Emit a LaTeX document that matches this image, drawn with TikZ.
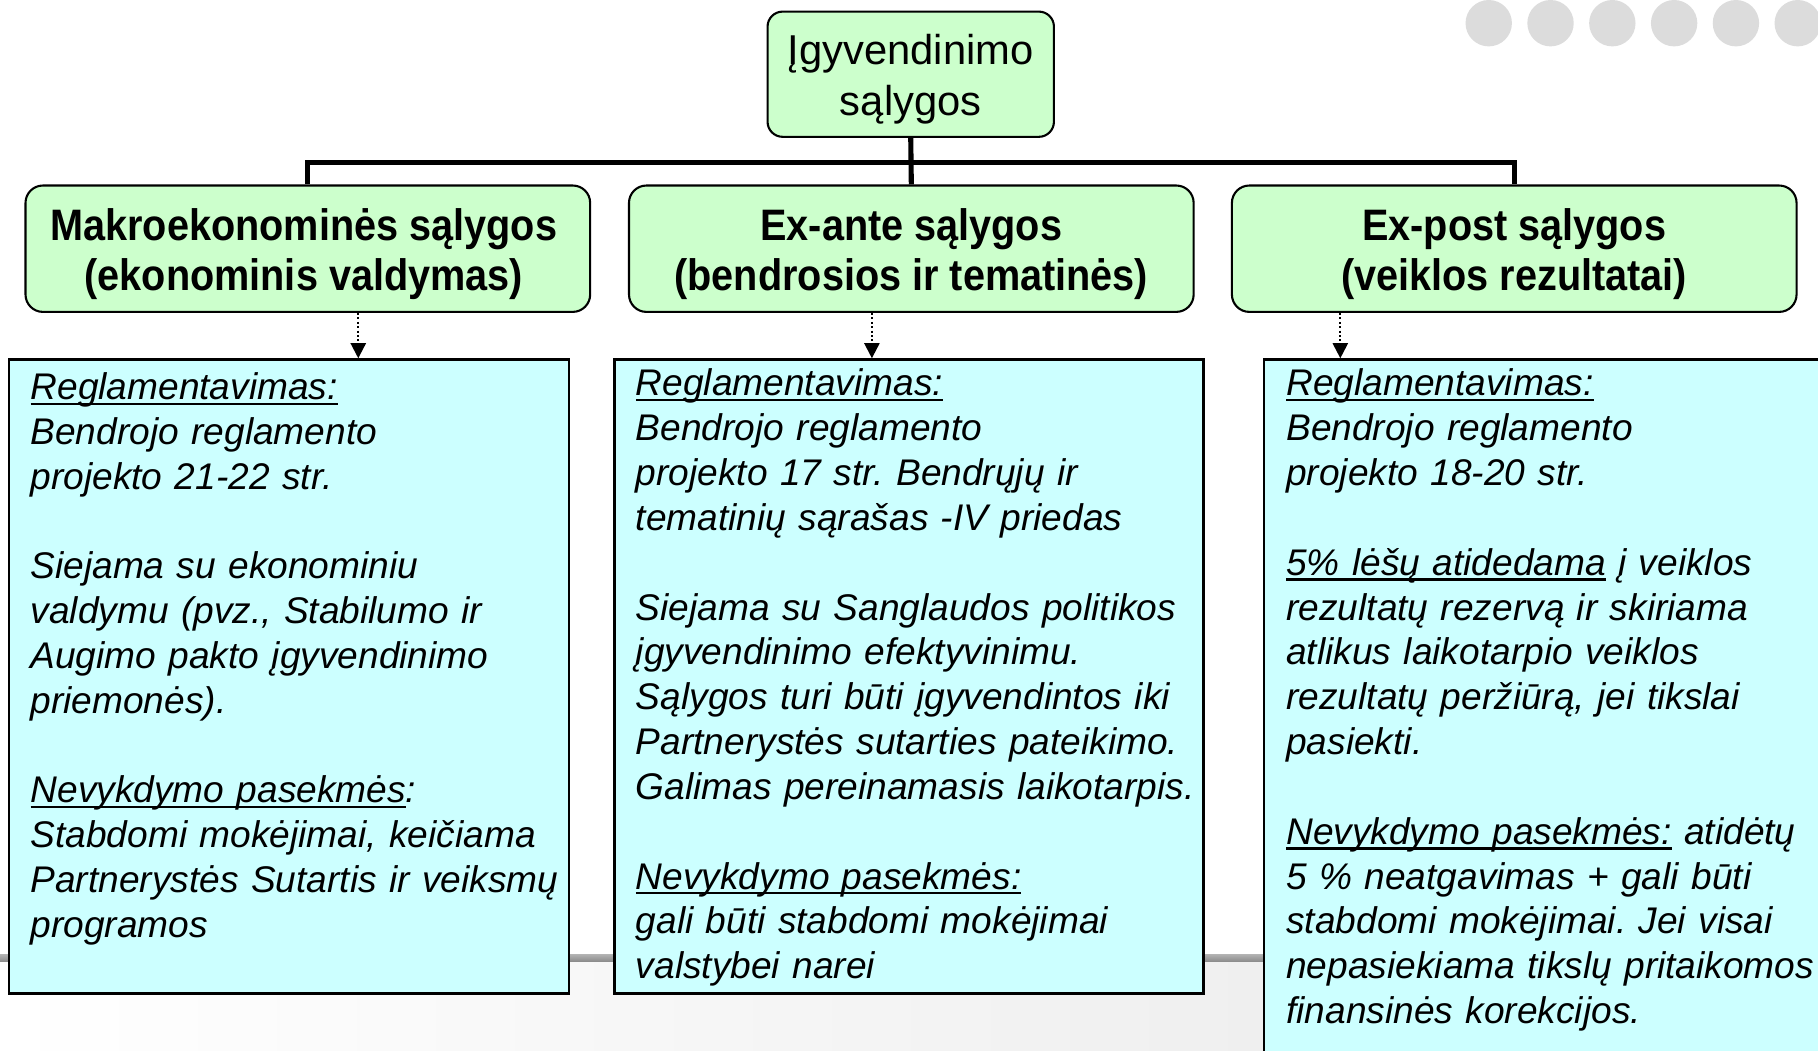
\documentclass[tikz,border=0pt]{standalone}
\usepackage{fontspec}
\setmainfont{Liberation Sans}
\newfontfamily\headfont[FakeStretch=0.9]{Liberation Sans}
\usetikzlibrary{arrows.meta}
\definecolor{boxgreen}{HTML}{CCFFCC}
\definecolor{boxcyan}{HTML}{CCFFFF}
\definecolor{dotgray}{HTML}{DCDCDC}
\newsavebox\myulbox
\newcommand{\myul}[1]{\sbox\myulbox{#1}\mbox{\rlap{\rule[-2.3pt]{\wd\myulbox}{0.9pt}}\usebox\myulbox}}
\tikzset{
  topbox/.style={draw=black, line width=0.9pt, fill=boxgreen, rounded corners=6.5pt,
    minimum width=123.5pt, minimum height=54pt, inner sep=0pt},
  toptext/.style={align=center, inner sep=0pt, font=\fontsize{18}{22}\selectfont},
  headbox/.style={draw=black, line width=0.9pt, fill=boxgreen, rounded corners=7.5pt,
    minimum width=243.5pt, minimum height=54.5pt, inner sep=0pt},
  headtext/.style={align=center, inner sep=0pt,
    font=\headfont\bfseries\fontsize{19}{21.5}\selectfont},
  infobox/.style={draw=black, line width=1pt, fill=boxcyan, inner sep=0pt},
  infotext/.style={anchor=base west, inner sep=0pt, text width=262pt, align=left,
    font=\frenchspacing\itshape\fontsize{16}{19.33}\selectfont},
  conn/.style={line width=2.2pt, line join=miter},
  dotarrow/.style={densely dotted, line width=0.9pt, -{Triangle[width=6.5pt,length=6.5pt]}},
  bgdot/.style={circle, fill=dotgray, minimum size=20pt, inner sep=0pt}
}
\begin{document}
\begin{tikzpicture}[x=0.5pt,y=-0.5pt]
\useasboundingbox (0,0) rectangle (1568,906);
\clip (0,0) rectangle (1568,906);
% background
\fill[white] (0,0) rectangle (1568,906);
\shade[left color=white, right color=black!9] (0,829) rectangle (1568,906);
\shade[top color=black!30, bottom color=black!45] (0,823) rectangle (1568,829);
% dots
\foreach \i in {0,...,5} {
  \node[bgdot] (dot\i) at (1284+53.3*\i,20) {};
}
% nodes
\node[topbox] (top) at (785.5,64) {};
\node[toptext] (topt) at (785.5,68) {Įgyvendinimo\\sąlygos};
\node[headbox] (lg) at (265.5,214.5) {};
\node[headbox] (mg) at (786,214.5) {};
\node[headbox] (rg) at (1306,214.5) {};
\node[headtext] (lgt) at (262,219) {Makroekonominės sąlygos\\(ekonominis valdymas)};
\node[headtext] (mgt) at (786,219) {Ex-ante sąlygos\\(bendrosios ir tematinės)};
\node[headtext] (rgt) at (1306,219) {Ex-post sąlygos\\(veiklos rezultatai)};

\node[infobox, minimum width=241.5pt, minimum height=273.5pt] (lb) at (249.5,583.5) {};
\node[infobox, minimum width=254pt, minimum height=273.5pt] (mb) at (784,583.5) {};
\node[infobox, minimum width=260pt, minimum height=330pt] (rb) at (1350,640) {};

\node[infotext] (lt) at (26,344.5) {\myul{Reglamentavimas:}\\
Bendrojo reglamento\\
projekto 21-22 str.\\[19.33pt]
Siejama su ekonominiu\\
valdymu (pvz., Stabilumo ir\\
Augimo pakto įgyvendinimo\\
priemonės).\\[19.33pt]
\myul{Nevykdymo pasekmės}:\\
Stabdomi mokėjimai, keičiama\\
Partnerystės Sutartis ir veiksmų\\
programos};

\node[infotext] (mt) at (548,341.5) {\myul{Reglamentavimas:}\\
Bendrojo reglamento\\
projekto 17 str. Bendrųjų ir\\
tematinių sąrašas -IV priedas\\[19.33pt]
Siejama su Sanglaudos politikos\\
įgyvendinimo efektyvinimu.\\
Sąlygos turi būti įgyvendintos iki\\
Partnerystės sutarties pateikimo.\\
Galimas pereinamasis laikotarpis.\\[19.33pt]
\myul{Nevykdymo pasekmės:}\\
gali būti stabdomi mokėjimai\\
valstybei narei};

\node[infotext] (rt) at (1109,341.5) {\myul{Reglamentavimas:}\\
Bendrojo reglamento\\
projekto 18-20 str.\\[19.33pt]
\myul{5\% lėšų atidedama} į veiklos\\
rezultatų rezervą ir skiriama\\
atlikus laikotarpio veiklos\\
rezultatų peržiūrą, jei tikslai\\
pasiekti.\\[19.33pt]
\myul{Nevykdymo pasekmės:} atidėtų\\
5 \% neatgavimas + gali būti\\
stabdomi mokėjimai. Jei visai\\
nepasiekiama tikslų pritaikomos\\
finansinės korekcijos.};

% connectors
\coordinate (bar) at (786,140);
\draw[conn] (lg.north) |- (bar) -| (rg.north);
\draw[conn] (top.south) -- (mg.north);

\coordinate (a1) at (309,0);
\coordinate (a2) at (752,0);
\coordinate (a3) at (1156,0);
\draw[dotarrow] (lg.south -| a1) -- (lb.north -| a1);
\draw[dotarrow] (mg.south -| a2) -- (mb.north -| a2);
\draw[dotarrow] (rg.south -| a3) -- (rb.north -| a3);
\end{tikzpicture}
\end{document}
